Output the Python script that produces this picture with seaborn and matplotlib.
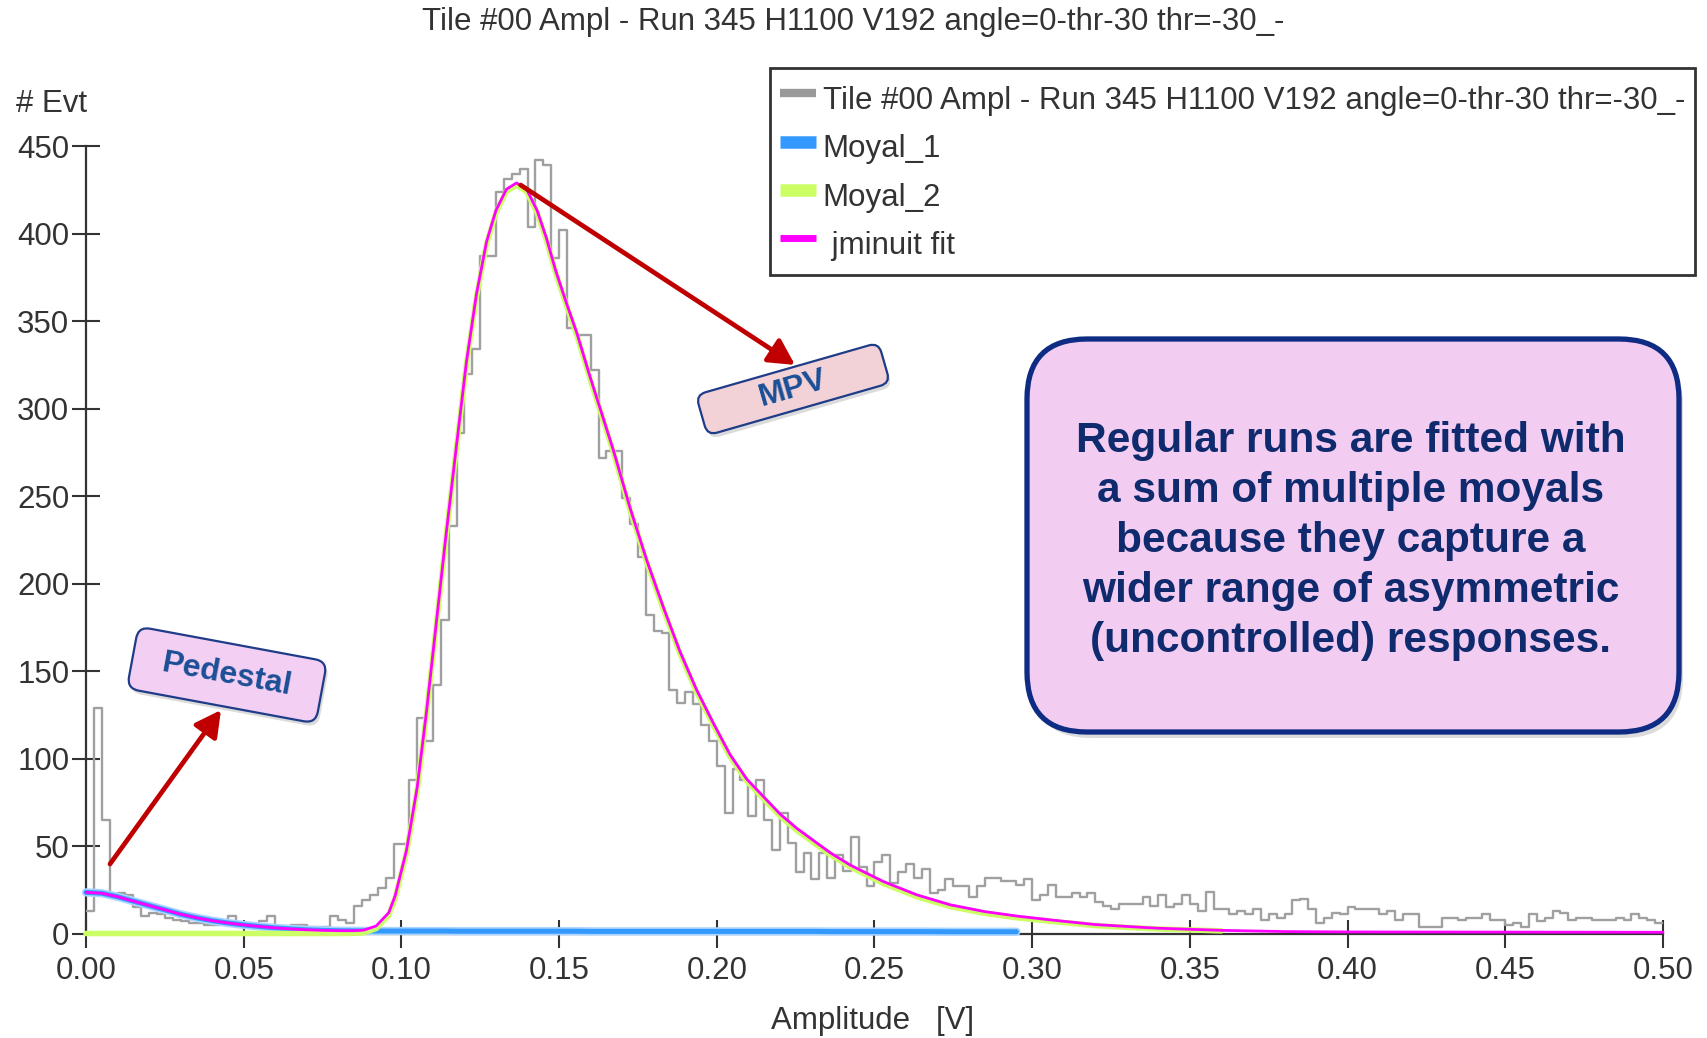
import numpy as np
import pandas as pd
import matplotlib
matplotlib.use("Agg")
import matplotlib.pyplot as plt
import seaborn as sns
from matplotlib.patches import FancyBboxPatch
from matplotlib.lines import Line2D
import matplotlib.transforms as mtransforms

# ---------------- data ----------------
title_text = "Tile #00 Ampl - Run 345 H1100 V192 angle=0-thr-30 thr=-30_-"
series_names = ["Moyal_1", "Moyal_2", " jminuit fit"]
x_label = "Amplitude   [V]"
y_label = "# Evt"
x_ticks = [0.00, 0.05, 0.10, 0.15, 0.20, 0.25, 0.30, 0.35, 0.40, 0.45, 0.50]
y_ticks = [0, 50, 100, 150, 200, 250, 300, 350, 400, 450]

bin_lo, bin_hi, n_bins = 0.0, 0.5, 200
counts = [
    13, 129, 65, 21, 23, 22, 15, 10, 12, 11, 9, 8, 7, 6, 6, 5, 5, 7, 10, 5,
    5, 4, 7, 10, 4, 3, 5, 5, 4, 4, 4, 10, 8, 6, 16, 19, 22, 26, 32, 51,
    51, 88, 123, 110, 142, 179, 233, 286, 320, 334, 387, 387, 424, 431, 434, 437, 404, 442, 439, 386,
    402, 346, 342, 342, 322, 272, 276, 276, 249, 234, 215, 182, 173, 172, 139, 132, 138, 131, 119, 110,
    96, 69, 94, 88, 67, 88, 65, 48, 69, 52, 35, 46, 31, 46, 32, 45, 36, 55, 38, 27,
    41, 45, 29, 35, 40, 32, 37, 23, 25, 31, 27, 27, 21, 27, 32, 32, 30, 30, 28, 31,
    19, 22, 28, 21, 21, 23, 21, 23, 18, 16, 14, 17, 17, 17, 21, 16, 22, 15, 17, 22,
    17, 13, 24, 14, 14, 11, 13, 11, 14, 8, 11, 9, 11, 19, 20, 14, 6, 9, 12, 11,
    15, 14, 14, 14, 11, 13, 8, 11, 11, 4, 4, 4, 9, 9, 8, 9, 9, 11, 8, 8,
    5, 6, 4, 11, 7, 9, 13, 12, 8, 9, 9, 8, 8, 8, 9, 8, 11, 9, 8, 6,
]

fit_x = [
    0.000, 0.005, 0.010, 0.015, 0.020, 0.025, 0.030, 0.035, 0.040, 0.045,
    0.050, 0.055, 0.060, 0.065, 0.070, 0.075, 0.080, 0.085, 0.088, 0.092,
    0.096, 0.098, 0.1016, 0.105, 0.108, 0.111, 0.114, 0.1175, 0.1206, 0.1238,
    0.127, 0.130, 0.1333, 0.1365, 0.1397, 0.143, 0.146, 0.149, 0.1525, 0.1556,
    0.1598, 0.1672, 0.1725, 0.1778, 0.1831, 0.1883, 0.1936, 0.1989, 0.2042, 0.2095,
    0.2148, 0.2201, 0.2253, 0.2306, 0.236, 0.2423, 0.2528, 0.2634, 0.274, 0.285,
    0.295, 0.3057, 0.320, 0.335, 0.340, 0.360, 0.380, 0.400, 0.450, 0.500,
]
moyal1 = [
    23.5, 23.0, 21.0, 18.5, 16.0, 13.5, 11.0, 9.0, 7.3, 6.0,
    4.9, 4.0, 3.2, 2.6, 2.1, 1.8, 1.6, 1.5, 1.5, 1.4,
    1.4, 1.4, 1.4, 1.4, 1.4, 1.4, 1.4, 1.3, 1.3, 1.3,
    1.3, 1.3, 1.3, 1.3, 1.3, 1.3, 1.3, 1.3, 1.3, 1.3,
    1.2, 1.2, 1.2, 1.2, 1.2, 1.2, 1.2, 1.2, 1.2, 1.2,
    1.2, 1.2, 1.2, 1.2, 1.1, 1.1, 1.1, 1.1, 1.0, 1.0,
    1.0, 0.8, 0.6, 0.5, 0.4, 0.3, 0.3, 0.3, 0.3, 0.3,
]
moyal2 = [
    0.0, 0.0, 0.0, 0.0, 0.0, 0.0, 0.0, 0.0, 0.0, 0.0,
    0.0, 0.0, 0.0, 0.0, 0.0, 0.0, 0.0, 0.1, 0.4, 2.9,
    10.5, 20.0, 46.0, 82.0, 126.0, 175.0, 224.0, 278.0, 325.0, 364.0,
    394.0, 412.0, 424.0, 427.6, 424.0, 412.0, 396.0, 377.0, 358.0, 342.0,
    317.0, 275.0, 242.0, 212.0, 185.0, 160.0, 138.0, 119.0, 101.0, 87.0,
    77.0, 67.0, 59.0, 52.0, 45.0, 38.0, 28.6, 21.0, 15.4, 11.5,
    9.0, 7.0, 4.5, 3.0, 2.6, 1.5, 0.8, 0.6, 0.5, 0.4,
]
moyal1_end = 0.30
moyal2_end = 0.36

# ---------------- figure ----------------
W, H = 1708, 1038
sns.set_style("ticks")
plt.rcParams["font.family"] = ["Liberation Sans", "DejaVu Sans"]

fig = plt.figure(figsize=(W / 100, H / 100), dpi=100)
fig.patch.set_facecolor("white")
ax_l, ax_r, ax_t, ax_b = 86, 1663, 146, 933.5
ax = fig.add_axes([ax_l / W, 1 - ax_b / H, (ax_r - ax_l) / W, (ax_b - ax_t) / H])
ax.set_facecolor("white")

bw = (bin_hi - bin_lo) / n_bins
centers = bin_lo + bw * (np.arange(n_bins) + 0.5)
hist_df = pd.DataFrame({"amp": centers, "n": np.array(counts, dtype=float)})
sns.histplot(data=hist_df, x="amp", weights="n", bins=n_bins,
             binrange=(bin_lo, bin_hi), element="step",
             fill=False, color="#a0a0a0", linewidth=1.7, ax=ax, zorder=3)

fx = np.array(fit_x)
m1 = np.array(moyal1)
m2 = np.array(moyal2)
fit_df = pd.DataFrame({"x": fx, "m1": m1, "m2": m2, "fit": m1 + m2})
d1 = fit_df[fit_df["x"] <= moyal1_end]
d2 = fit_df[fit_df["x"] <= moyal2_end]

sns.lineplot(data=d1, x="x", y="m1", color="#a9d4ff", linewidth=6, ax=ax,
             estimator=None, sort=False, zorder=4, clip_on=False)
sns.lineplot(data=d1, x="x", y="m1", color="#3399ff", linewidth=3.6, ax=ax,
             estimator=None, sort=False, zorder=4.1, clip_on=False)
sns.lineplot(data=d2, x="x", y="m2", color="#ccff66", linewidth=4.0, ax=ax,
             estimator=None, sort=False, zorder=5, clip_on=False)
sns.lineplot(data=fit_df, x="x", y="fit", color="#ff00ff", linewidth=2.0, ax=ax,
             estimator=None, sort=False, zorder=6, clip_on=False)

ax.set_xlim(0, 0.5)
ax.set_ylim(0, 450)
ax.set_xticks(x_ticks)
ax.set_xticklabels([f"{t:.2f}" for t in x_ticks])
ax.set_yticks(y_ticks)
ax.set_yticklabels([str(t) for t in y_ticks])
ax.set_xlabel("")
ax.set_ylabel("")
for s in ["top", "right"]:
    ax.spines[s].set_visible(False)
for s in ["left", "bottom"]:
    ax.spines[s].set_color("#333333")
    ax.spines[s].set_linewidth(1.6)
ax.tick_params(axis="both", direction="inout", length=20, width=1.5,
               colors="#333333", labelsize=22.5)
ax.tick_params(axis="y", pad=2)
ax.tick_params(axis="x", pad=6)

txt_col = "#333333"
fig.text(853 / W, 1 - 22 / H, title_text, ha="center", va="center",
         fontsize=22.5, color=txt_col)
fig.text(16 / W, 1 - 104 / H, y_label, ha="left", va="center",
         fontsize=22.5, color=txt_col)
fig.text(873 / W, 1 - 1021 / H, x_label, ha="center", va="center",
         fontsize=22.5, color=txt_col)

# legend
handles = [
    Line2D([0], [0], color="#999999", lw=6, solid_capstyle="butt"),
    Line2D([0], [0], color="#3399ff", lw=9, solid_capstyle="butt"),
    Line2D([0], [0], color="#ccff66", lw=9, solid_capstyle="butt"),
    Line2D([0], [0], color="#ff00ff", lw=5, solid_capstyle="butt"),
]
labels = [title_text] + series_names
leg = fig.legend(handles, labels, loc="upper left",
                 bbox_to_anchor=(770 / W, 1 - 67.5 / H),
                 bbox_transform=fig.transFigure, borderaxespad=0,
                 frameon=True, fancybox=False, shadow=False,
                 fontsize=22.5, handlelength=1.15, handletextpad=0.22,
                 handleheight=1.75, borderpad=0.32, labelspacing=0.16)
leg.get_frame().set_edgecolor("black")
leg.get_frame().set_linewidth(2)
leg.get_frame().set_facecolor("white")
for t in leg.get_texts():
    t.set_color(txt_col)


# ---------------- annotations ----------------
def rot_box(cx, cy, w, h, angle, r, fc, ec, lw, sh_off=5, sh_alpha=0.28):
    trans = mtransforms.Affine2D().rotate_deg(angle).translate(cx, H - cy)
    style = f"round,pad=0,rounding_size={r}"
    sh = FancyBboxPatch((-w / 2, -h / 2), w, h, boxstyle=style,
                        transform=trans + mtransforms.Affine2D().translate(sh_off * 0.6, -sh_off),
                        fc="#808080", ec="none", alpha=sh_alpha, zorder=8)
    fig.add_artist(sh)
    p = FancyBboxPatch((-w / 2, -h / 2), w, h, boxstyle=style, transform=trans,
                       fc=fc, ec=ec, lw=lw, zorder=9)
    fig.add_artist(p)


arrow_col = "#c00000"
for tail, head in [((0.0076, 39.7), (0.0428, 127.7)),
                   ((0.1378, 427.7), (0.2248, 324.9))]:
    ax.annotate("", xy=head, xytext=tail, zorder=7,
                arrowprops=dict(arrowstyle="-|>,head_length=0.6,head_width=0.32",
                                color=arrow_col, lw=3.4, mutation_scale=26,
                                shrinkA=0, shrinkB=0))

# Pedestal label
rot_box(227, 675, 192, 63, -10.5, 12, "#f3cff3", "#1f3c88", 1.6, sh_off=4)
fig.text(227 / W, 1 - 675 / H, "Pedestal", rotation=-10.5, rotation_mode="anchor",
         ha="center", va="center", fontsize=23, fontweight="bold",
         color="#1b4f96", zorder=10)

# MPV label
rot_box(793, 389, 190, 42, 16, 10, "#f2d2d6", "#1f3c88", 1.6, sh_off=4)
fig.text(793 / W, 1 - 389 / H, "MPV", rotation=16, rotation_mode="anchor",
         ha="center", va="center", fontsize=23, fontweight="bold",
         color="#1b4f96", zorder=10)

# big explanatory box
bx0, by0, bx1, by1 = 1027, 339, 1679, 732
big = FancyBboxPatch((bx0 + 4, H - by1 - 6), bx1 - bx0, by1 - by0,
                     boxstyle="round,pad=0,rounding_size=60",
                     transform=mtransforms.IdentityTransform(),
                     fc="#9a9a9a", ec="none", alpha=0.35, zorder=8)
fig.add_artist(big)
big = FancyBboxPatch((bx0, H - by1), bx1 - bx0, by1 - by0,
                     boxstyle="round,pad=0,rounding_size=60",
                     transform=mtransforms.IdentityTransform(),
                     fc="#f3cdf1", ec="#0e2c84", lw=3.8, zorder=9)
fig.add_artist(big)
note = ("Regular runs are fitted with\n"
        "a sum of multiple moyals\n"
        "because they capture a\n"
        "wider range of asymmetric\n"
        "(uncontrolled) responses.")
fig.text(1351 / W, 1 - 541 / H, note, ha="center", va="center",
         multialignment="center", fontsize=30.5, fontweight="bold",
         color="#102a6e", linespacing=1.33, zorder=10)

fig.savefig("out.png", dpi=100, facecolor="white")
